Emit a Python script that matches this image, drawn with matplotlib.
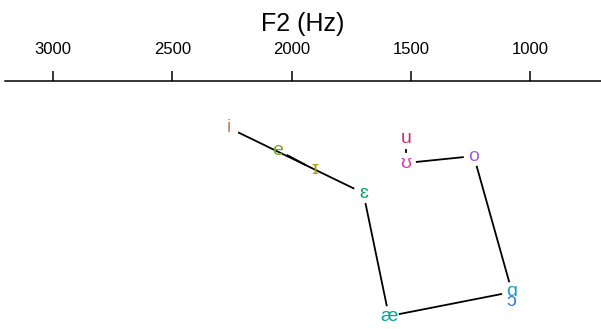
#!/usr/bin/env python3
"""
Vowel chart: F2 on a reversed top axis, F1 reversed downward
"""

import matplotlib.pyplot as plt
import numpy as np

plt.rcParams['font.family'] = ['Liberation Sans', 'DejaVu Sans']

# vowel data (Hz)
vowels = ['i', 'e', 'ɪ', 'ɛ', 'æ', 'ɑ', 'ɔ', 'o', 'ʊ', 'u']
f2 = [2262, 2057, 1902, 1699, 1592, 1076, 1081, 1236, 1521, 1521]
f1 = [342, 409, 469, 539, 911, 838, 868, 427, 448, 375]
colors = ['#C8865E', '#6EA820', '#B59A00', '#00A65A', '#00A894',
          '#1A9FC8', '#2B7FE0', '#A55CE0', '#D43CB8', '#D4306A']

# polygon paths (by vowel)
paths = [['i', 'ɛ', 'æ', 'ɑ', 'o', 'ʊ', 'u'], ['e', 'ɪ']]

ticks = [3000, 2500, 2000, 1500, 1000]


def trimmed(ax, a, b, gap=11):
    """Return segment a->b (data coords) shortened by gap pixels at each end."""
    pa = ax.transData.transform(a)
    pb = ax.transData.transform(b)
    d = pb - pa
    n = np.hypot(*d)
    if n <= 2 * gap:
        return None
    u = d / n
    pa2 = pa + u * gap
    pb2 = pb - u * gap
    inv = ax.transData.inverted()
    return inv.transform(pa2), inv.transform(pb2)


fig = plt.figure(figsize=(6.01, 3.29), dpi=100)
ax = fig.add_axes([5 / 601, 0.0, 596 / 601, 1 - 81 / 329])
ax.set_xlim(3201, 703)
ax.set_ylim(950, 200)

for s in ['left', 'right', 'bottom']:
    ax.spines[s].set_visible(False)
ax.spines['top'].set_linewidth(1.1)
ax.set_yticks([])
ax.xaxis.tick_top()
ax.set_xticks(ticks)
ax.set_xticklabels([str(t) for t in ticks])
ax.tick_params(axis='x', direction='out', length=7.5, width=1.1,
               labelsize=12, pad=10)
ax.xaxis.set_label_position('top')
ax.set_xlabel('F2 (Hz)', fontsize=18, labelpad=7.5)

pos = {v: (x, y) for v, x, y in zip(vowels, f2, f1)}
for path in paths:
    for a, b in zip(path[:-1], path[1:]):
        seg = trimmed(ax, pos[a], pos[b])
        if seg is None:
            continue
        (x0, y0), (x1, y1) = seg
        ax.plot([x0, x1], [y0, y1], color='black', lw=1.3, zorder=1)

for v, x, y, c in zip(vowels, f2, f1, colors):
    ax.text(x, y, v, color=c, fontsize=14, ha='center', va='center', zorder=2)

plt.savefig('out.png', dpi=100)
